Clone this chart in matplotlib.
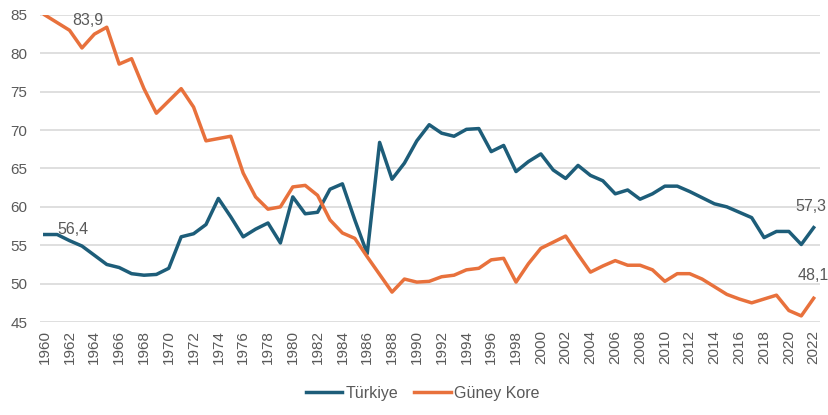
import numpy as np
import matplotlib
matplotlib.use("Agg")
import matplotlib.pyplot as plt

plt.rcParams['font.family'] = ['Liberation Sans', 'DejaVu Sans']

years = np.arange(1960, 2023)

turkiye = [56.4, 56.4, 55.6, 54.9, 53.7, 52.5, 52.1, 51.3, 51.1, 51.2,
           52.0, 56.1, 56.5, 57.7, 61.1, 58.7, 56.1, 57.1, 57.9, 55.3,
           61.3, 59.1, 59.3, 62.3, 63.0, 58.3, 53.9, 68.4, 63.6, 65.7,
           68.6, 70.7, 69.6, 69.2, 70.1, 70.2, 67.2, 68.0, 64.6, 65.9,
           66.9, 64.8, 63.7, 65.4, 64.1, 63.4, 61.7, 62.2, 61.0, 61.7,
           62.7, 62.7, 62.0, 61.2, 60.4, 60.0, 59.3, 58.6, 56.0, 56.8,
           56.8, 55.1, 57.3]

guney_kore = [85.0, 84.0, 83.0, 80.7, 82.5, 83.4, 78.6, 79.3, 75.4, 72.2,
              73.8, 75.4, 73.0, 68.6, 68.9, 69.2, 64.4, 61.3, 59.7, 60.0,
              62.6, 62.8, 61.5, 58.3, 56.6, 55.9, 53.5, 51.2, 48.9, 50.6,
              50.2, 50.3, 50.9, 51.1, 51.8, 52.0, 53.1, 53.3, 50.2, 52.6,
              54.6, 55.4, 56.2, 53.8, 51.5, 52.3, 53.0, 52.4, 52.4, 51.8,
              50.3, 51.3, 51.3, 50.6, 49.6, 48.6, 48.0, 47.5, 48.0, 48.5,
              46.5, 45.8, 48.1]

teal = "#1d5d79"
orange = "#e8713c"
gray_text = "#595959"

fig = plt.figure(figsize=(8.29, 4.15), dpi=100)
ax = fig.add_axes([0.048, 0.224, 0.941, 0.740])

ax.plot(years, turkiye, color=teal, lw=2.5, label="Türkiye")
ax.plot(years, guney_kore, color=orange, lw=2.5, label="Güney Kore")

ax.set_xlim(1959.6, 2022.5)
ax.set_ylim(45, 85)
ax.set_yticks(range(45, 86, 5))
ax.set_xticks(years[::2])
ax.set_xticklabels([str(y) for y in years[::2]], rotation=90)
ax.tick_params(axis='both', length=0, labelsize=11, colors=gray_text)
ax.tick_params(axis='x', pad=6)
ax.tick_params(axis='y', pad=9)
ax.grid(True, axis='y', color="#d9d9d9", lw=1.2)
ax.set_axisbelow(True)
for s in ax.spines.values():
    s.set_visible(False)

# data labels
ax.annotate("83,9", (1962, guney_kore[2]), xytext=(2, 2), textcoords="offset points",
            fontsize=11.5, color=gray_text, ha="left", va="bottom")
ax.annotate("56,4", (1961, turkiye[1]), xytext=(0, -2), textcoords="offset points",
            fontsize=11.5, color=gray_text, ha="left", va="bottom")
ax.annotate("57,3", (2022, turkiye[-1]), xytext=(-2, 10), textcoords="offset points",
            fontsize=11.5, color=gray_text, ha="center", va="bottom")
ax.annotate("48,1", (2022, guney_kore[-1]), xytext=(0, 11), textcoords="offset points",
            fontsize=11.5, color=gray_text, ha="center", va="bottom", annotation_clip=False)

leg = fig.legend(loc="lower center", bbox_to_anchor=(0.51, 0.0), ncol=2, frameon=False,
                 fontsize=11.5, handlelength=2.3, columnspacing=1.0, handletextpad=0.2)
for t in leg.get_texts():
    t.set_color(gray_text)

fig.savefig("out.png", dpi=100)
